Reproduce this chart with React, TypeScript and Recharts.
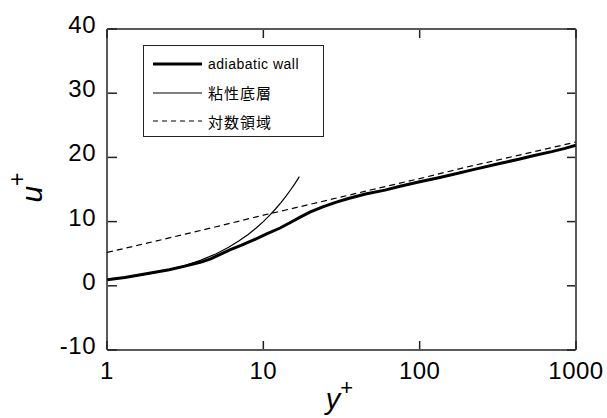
import { LineChart, Line, XAxis, YAxis, Legend, Label } from 'recharts';

// wall-normal distance y+ vs. velocity u+
const wallY = [1, 1.3, 1.9, 2.5, 3.2, 4, 4.6, 5.3, 6.1, 7.2, 8.6, 10.5, 12.8, 15, 17.2, 20, 24, 29, 35, 45, 60, 75, 100, 130, 160, 220, 330, 430, 540, 700, 850, 1000];
const wallU = [0.95, 1.3, 2.0, 2.5, 3.1, 3.7, 4.2, 4.9, 5.6, 6.3, 7.1, 8.1, 9.0, 9.9, 10.7, 11.5, 12.3, 13.0, 13.6, 14.3, 14.9, 15.5, 16.2, 16.8, 17.3, 18.1, 19.1, 19.7, 20.3, 20.9, 21.4, 21.9];

const subY = [1, 1.5, 2, 3, 4, 5, 6, 7, 8, 9, 10, 11, 12, 13, 14, 15, 16, 17];
const subU = [1, 1.5, 2, 3, 4, 5, 6, 7, 8, 9, 10, 11, 12, 13, 14, 15, 16, 17];

const logY = [1, 2, 5, 10, 20, 50, 100, 200, 500, 1000];
const logU = [5.2, 6.9, 9.2, 11.0, 12.7, 15.0, 16.7, 18.5, 20.7, 22.4];

const xTicks = [1, 10, 100, 1000];
const yTicks = [-10, 0, 10, 20, 30, 40];

const zip = (xs: number[], ys: number[]) => xs.map((x, i) => ({ x, u: ys[i] }));
const wall = zip(wallY, wallU);
const sub = zip(subY, subU);
const loglaw = zip(logY, logU);

const INK = '#000';
const AXIS = '#222';
const FONT = '"Liberation Sans", Arial, sans-serif';
const JP = '"Noto Sans CJK JP", "Liberation Sans", sans-serif';

const SERIES = [
  { key: 'wall', label: 'adiabatic wall', width: 3, dash: undefined, font: FONT, size: 14, spacing: 0.5 },
  { key: 'sub', label: '粘性底層', width: 1.2, dash: undefined, font: JP, size: 15, spacing: 1 },
  { key: 'log', label: '対数領域', width: 1.2, dash: '5 4', font: JP, size: 15, spacing: 1 },
];

const tickText = { fontFamily: FONT, fontSize: 24, fill: INK, letterSpacing: 0.5 };
const axisLine = { stroke: AXIS, strokeWidth: 1.5 };

// axes are 1px thick boxes, so the tick anchor sits on the plot edge +/- 1
function BottomTick({ x, y, payload }: any) {
  const y0 = y - 1;
  return (
    <g>
      <line x1={x} y1={y0} x2={x} y2={y0 - 8} stroke={AXIS} strokeWidth={1.5} />
      <text x={x} y={y0 + 30} textAnchor="middle" {...tickText}>{payload.value}</text>
    </g>
  );
}

function TopTick({ x, y }: any) {
  const y0 = y + 1;
  return <line x1={x} y1={y0} x2={x} y2={y0 + 8} stroke={AXIS} strokeWidth={1.5} />;
}

function LeftTick({ x, y, payload }: any) {
  const x0 = x + 1;
  return (
    <g>
      <line x1={x0} y1={y} x2={x0 + 9} y2={y} stroke={AXIS} strokeWidth={1.5} />
      <text x={x0 - 12} y={y + 4} textAnchor="end" {...tickText}>{payload.value}</text>
    </g>
  );
}

function RightTick({ x, y }: any) {
  const x0 = x - 1;
  return <line x1={x0} y1={y} x2={x0 - 8} y2={y} stroke={AXIS} strokeWidth={1.5} />;
}

function LegendBox() {
  return (
    <div style={{ width: 179, height: 86, border: `1.5px solid ${AXIS}`, background: '#fff', paddingTop: 4 }}>
      {SERIES.map((s) => (
        <div key={s.key} style={{ display: 'flex', alignItems: 'center', height: 28.5 }}>
          <svg width={64} height={10} style={{ flex: 'none' }}>
            <line x1={9} y1={5} x2={58} y2={5} stroke={INK} strokeWidth={s.width} strokeDasharray={s.dash} />
          </svg>
          <span style={{ fontFamily: s.font, fontSize: s.size, letterSpacing: s.spacing, color: INK, lineHeight: 1 }}>{s.label}</span>
        </div>
      ))}
    </div>
  );
}

export default function App() {
  return (
    <div style={{ position: 'absolute', left: 0, top: 0, width: 607, height: 418, background: '#fff' }}>
      <LineChart width={607} height={418} margin={{ top: 28, right: 30, left: 106, bottom: 67 }}>
        <XAxis xAxisId="b" dataKey="x" type="number" scale="log" domain={[1, 1000]} ticks={xTicks} allowDataOverflow
          height={1} tickSize={0} tickMargin={0} tickLine={false} axisLine={axisLine} tick={<BottomTick />} interval={0}>
          <Label content={({ viewBox }: any) => (
            <text x={viewBox.x + viewBox.width / 2 - 2} y={viewBox.y + 59} textAnchor="middle" fontFamily={FONT} fontSize={29} fontStyle="italic" fill={INK}>
              y<tspan dy={-14} fontSize={22} fontStyle="normal">+</tspan>
            </text>
          )} />
        </XAxis>
        <XAxis xAxisId="t" orientation="top" dataKey="x" type="number" scale="log" domain={[1, 1000]} ticks={xTicks} allowDataOverflow
          height={1} tickSize={0} tickMargin={0} tickLine={false} axisLine={axisLine} tick={<TopTick />} interval={0} />
        <YAxis yAxisId="l" type="number" domain={[-10, 40]} ticks={yTicks} allowDataOverflow
          width={1} tickSize={0} tickMargin={0} tickLine={false} axisLine={axisLine} tick={<LeftTick />} interval={0}>
          <Label content={({ viewBox }: any) => (
            <text transform={`translate(${viewBox.x - 64}, ${viewBox.y + viewBox.height / 2 - 2}) rotate(-90)`} textAnchor="middle"
              fontFamily={FONT} fontSize={30} fontStyle="italic" fill={INK}>
              u<tspan dy={-17} fontSize={23} fontStyle="normal">+</tspan>
            </text>
          )} />
        </YAxis>
        <YAxis yAxisId="r" orientation="right" type="number" domain={[-10, 40]} ticks={yTicks} allowDataOverflow
          width={1} tickSize={0} tickMargin={0} tickLine={false} axisLine={axisLine} tick={<RightTick />} interval={0} />
        <Legend layout="vertical" align="center" verticalAlign="middle" content={<LegendBox />}
          wrapperStyle={{ left: 143, top: 45, width: 'auto', height: 'auto' }} />
        <Line xAxisId="b" yAxisId="l" data={loglaw} dataKey="u" name="対数領域" type="linear" stroke={INK} strokeWidth={1.2}
          strokeDasharray="6 4" dot={false} isAnimationActive={false} />
        <Line xAxisId="b" yAxisId="l" data={sub} dataKey="u" name="粘性底層" type="linear" stroke={INK} strokeWidth={1.2}
          dot={false} isAnimationActive={false} />
        <Line xAxisId="b" yAxisId="l" data={wall} dataKey="u" name="adiabatic wall" type="linear" stroke={INK} strokeWidth={3}
          dot={false} isAnimationActive={false} />
      </LineChart>
    </div>
  );
}
